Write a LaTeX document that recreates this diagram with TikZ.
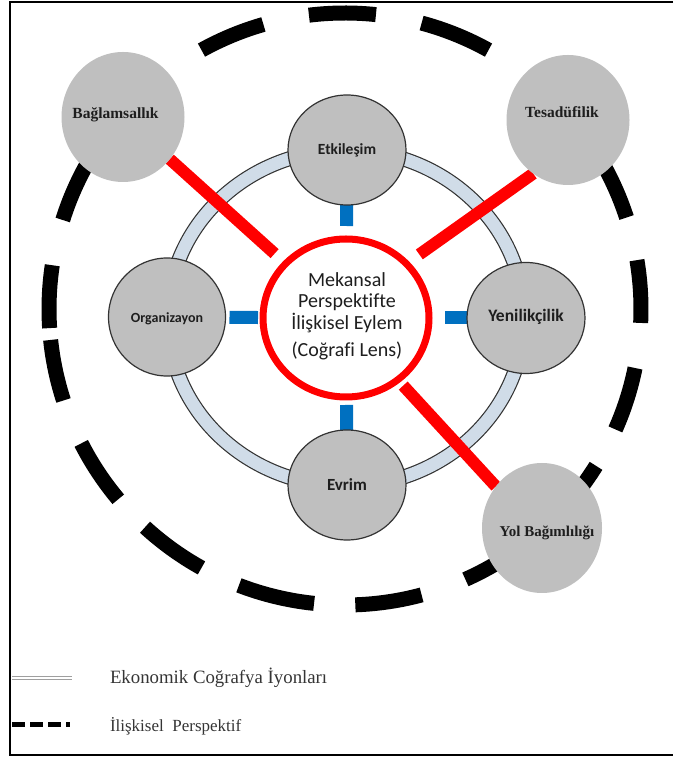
\documentclass[tikz,border=0pt]{standalone}
\usepackage{fontspec}
\setmainfont{Liberation Serif}
\newfontfamily\calib[Ligatures=NoCommon]{Carlito}
\usetikzlibrary{shapes.geometric,calc}
\definecolor{nodegray}{HTML}{BFBFBF}
\definecolor{ringfill}{HTML}{D0DCE8}
\definecolor{ringedge}{HTML}{333333}
\definecolor{barblue}{HTML}{0070C0}
\definecolor{barred}{HTML}{FF0000}
\definecolor{txtdark}{HTML}{1E1E1E}
\pgfdeclarelayer{bg}\pgfdeclarelayer{mid}\pgfsetlayers{bg,mid,main}
\begin{document}
\begin{tikzpicture}[x=1pt,y=1pt,outer sep=0pt,
  outerell/.style={ellipse, fill=nodegray, draw=none, inner sep=0pt},
  innerell/.style={ellipse, fill=nodegray, draw=ringedge, line width=1.2pt, inner sep=0pt},
  lensell/.style={ellipse, fill=white, draw=barred, line width=7pt, inner sep=0pt,
     minimum width=166pt, minimum height=158pt},
  outerlbl/.style={font=\fontsize{15.5}{18}\selectfont\bfseries, text=txtdark, inner sep=0pt, anchor=base},
  innerlbl/.style={text=txtdark, inner sep=0pt, anchor=base},
  lenslbl/.style={font=\calib\fontsize{20}{22}\selectfont, text=txtdark, inner sep=0pt, anchor=base},
  legendlbl/.style={text=txtdark!90, inner sep=0pt, anchor=base west},
  redbar/.style={draw=barred, line width=12pt},
  bluebar/.style={draw=barblue, line width=13pt},
  dashpiece/.style={draw=black, line width=15pt},
]
\useasboundingbox (0,0) rectangle (673,758);

% frame
\draw[line width=2.5pt] (673,756) -- (10,756) -- (10,3) -- (673,3);

% centres
\coordinate (oc) at (345,449);
\coordinate (rc) at (346,440);

% outer dashed circle
\begin{pgfonlayer}{bg}
\foreach \a/\b in {186/198,207/220,227.5/241,249/264,272/285,294/307,315/328,336/348.5,
  357.3/369.5,378/389,39/52,61/75,84/97,106/119,128/141,151/162.5,171.5/183.7}
  \draw[dashpiece] ($(oc)+(\a:296)$) arc[start angle=\a, end angle=\b, radius=296];
% ring
\draw[ringedge, line width=15pt] (rc) ellipse [x radius=178, y radius=168];
\draw[ringfill, line width=12.6pt] (rc) ellipse [x radius=178, y radius=168];
\end{pgfonlayer}

% outer ellipses
\node[outerell, minimum width=123pt, minimum height=130pt] (bag) at (123,641) {};
\node[outerell, minimum width=123pt, minimum height=130pt] (tes) at (568,638) {};
\node[outerell, minimum width=120pt, minimum height=130pt] (yol) at (542,230) {};

% inner nodes
\node[innerell, minimum width=118pt, minimum height=110pt] (etk) at (347,608) {};
\node[innerell, minimum width=118pt, minimum height=110pt] (evr) at (347,273) {};
\node[innerell, minimum width=117pt, minimum height=118pt] (org) at (167,441) {};
\node[innerell, minimum width=118pt, minimum height=111pt] (yen) at (526,440) {};

% lens
\node[lensell] (lens) at (rc) {};

% connectors
\begin{pgfonlayer}{mid}
\draw[redbar, shorten >=15pt] (bag) -- (lens);
\draw[redbar, shorten >=16pt] (tes.237) -- (lens.42);
\draw[redbar, shorten <=8pt] (lens.-50) -- (yol.138);
\draw[bluebar, shorten >=13pt] (etk) -- (lens);
\draw[bluebar, shorten >=8pt] (evr) -- (lens);
\draw[bluebar, shorten <=4pt, shorten >=5pt] (org) -- (lens);
\draw[bluebar, shorten >=16pt] (yen) -- (lens);
\end{pgfonlayer}

% labels
\node[outerlbl] (bagt) at (115.5,639.5) {Bağlamsallık};
\node[outerlbl] (test) at (562,640.5) {Tesadüfilik};
\node[outerlbl, font=\fontsize{15}{18}\selectfont\bfseries] (yolt) at (547,221.5) {Yol Bağımlılığı};

\node[innerlbl, font=\calib\bfseries\fontsize{15.5}{18}\selectfont] (etkt) at (347,603) {Etkileşim};
\node[innerlbl, font=\calib\bfseries\fontsize{14}{16}\selectfont] (orgt) at (167,435.5) {Organizayon};
\node[innerlbl, font=\calib\bfseries\fontsize{17.5}{20}\selectfont] (yent) at (526,436.5) {Yenilikçilik};
\node[innerlbl, font=\calib\bfseries\fontsize{17}{20}\selectfont] (evrt) at (347,267.5) {Evrim};

\node[lenslbl] (l1) at (347,471) {Mekansal};
\node[lenslbl] (l2) at (347,450) {Perspektifte};
\node[lenslbl] (l3) at (347,428) {İlişkisel Eylem};
\node[lenslbl] (l4) at (347,401) {(Coğrafi Lens)};

% legend
\coordinate (lga) at (12,80);
\coordinate (lgb) at (72,80);
\draw[draw=gray!75, double=white, double distance=1.5pt, line width=1.1pt] (lga) -- (lgb);
\coordinate (lgc) at (12,33);
\coordinate (lgd) at (70,33);
\draw[line width=5pt, dash pattern=on 13pt off 5pt] (lgc) -- (lgd);
\node[legendlbl, font=\fontsize{18.8}{21}\selectfont] (lgt1) at (110,74) {Ekonomik Coğrafya İyonları};
\node[legendlbl, font=\fontsize{17}{20}\selectfont] (lgt2) at (110,27) {İlişkisel~ Perspektif};
\end{tikzpicture}
\end{document}
